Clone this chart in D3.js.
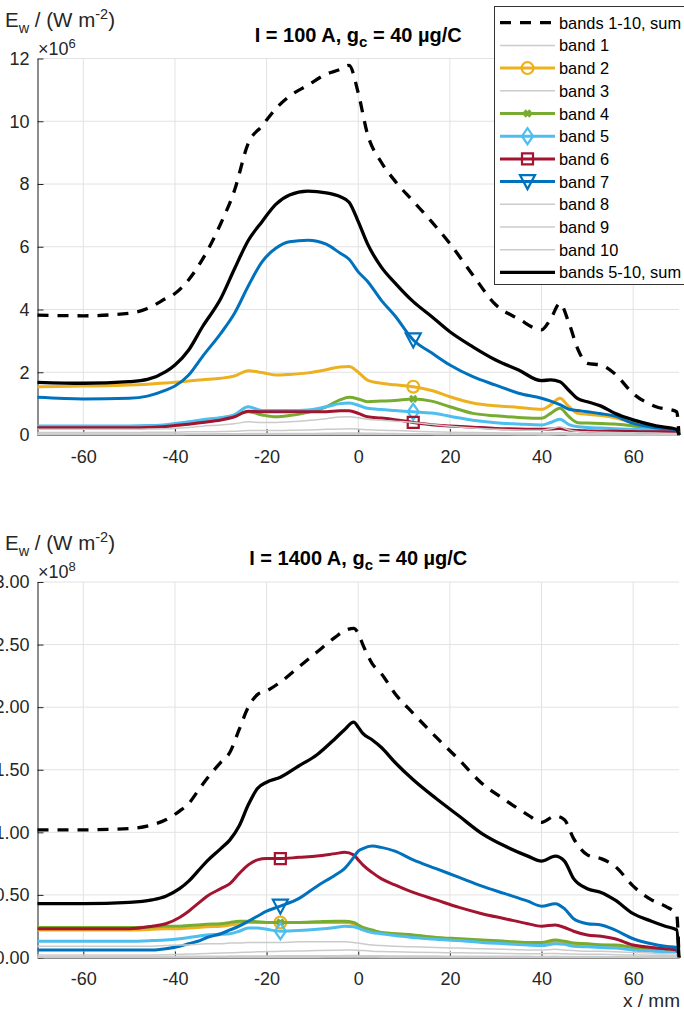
<!DOCTYPE html>
<html>
<head>
<meta charset="utf-8">
<script src="https://cdn.jsdelivr.net/npm/d3@7"></script>
<style>
  body { margin: 0; background: #fff; }
  svg { display: block; font-family: "Liberation Sans", Arial, Helvetica, sans-serif; }
</style>
</head>
<body>
<svg id="chart" width="684" height="1010"></svg>
<script>
// ---------- data ----------
const X_TICKS = [-60, -40, -20, 0, 20, 40, 60];
const Y_TICKS_TOP = [0, 2, 4, 6, 8, 10, 12];          // ×10^6 W m^-2
const Y_TICKS_BOT = [0, 0.5, 1, 1.5, 2, 2.5, 3];      // ×10^8 W m^-2

const LEGEND_LABELS = ["bands 1-10, sum", "band 1", "band 2", "band 3", "band 4", "band 5",
                       "band 6", "band 7", "band 8", "band 9", "band 10", "bands 5-10, sum"];

// I = 100 A  (values ×10^6)
const X_TOP = [-70,-60,-50,-46,-42, -40,-37,-34,-30,-27, -24,-21,-18,-15,-11, -7,-4,-2,0,2,
               5,8,12,16,20, 25,30,35,40,42, 44,46,48,50,53, 56,60,65,69.5,70];
const TOP_SUM_ALL = [3.82,3.80,3.88,4.03,4.35, 4.51,4.95,5.60,6.74,7.80, 9.30,9.85,10.40,10.80,11.15,
                     11.50,11.65,11.78,10.90,9.60, 8.70,8.10,7.45,6.80,6.10, 5.10,4.15,3.70,3.35,3.70,
                     4.19,3.56,2.71,2.28,2.23, 1.95,1.32,0.90,0.74,0];
const TOP_B1 = [0.03,0.03,0.03,0.03,0.03, 0.03,0.035,0.035,0.04,0.04, 0.045,0.045,0.045,0.05,0.05,
                0.055,0.06,0.06,0.06,0.055, 0.05,0.045,0.04,0.035,0.03, 0.03,0.025,0.025,0.02,0.025,
                0.03,0.02,0.02,0.02,0.02, 0.015,0.015,0.01,0.01,0];
const TOP_B2 = [1.54,1.56,1.59,1.62,1.66, 1.68,1.72,1.76,1.81,1.88, 2.05,1.99,1.91,1.93,1.98,
                2.08,2.17,2.18,2.00,1.75, 1.65,1.60,1.54,1.42,1.22, 1.02,0.93,0.88,0.82,0.96,
                1.17,0.90,0.69,0.66,0.62, 0.55,0.39,0.27,0.16,0];
const TOP_B3 = [0.08,0.08,0.08,0.085,0.09, 0.09,0.10,0.10,0.11,0.12, 0.14,0.14,0.14,0.15,0.16,
                0.18,0.19,0.20,0.19,0.17, 0.15,0.14,0.12,0.10,0.09, 0.08,0.07,0.065,0.06,0.07,
                0.08,0.06,0.05,0.05,0.045, 0.04,0.04,0.035,0.03,0];
const TOP_B4 = [0.27,0.27,0.27,0.28,0.30, 0.32,0.37,0.44,0.54,0.62, 0.74,0.64,0.58,0.62,0.72,
                0.90,1.12,1.20,1.15,1.06, 1.08,1.10,1.15,1.08,0.90, 0.69,0.61,0.56,0.53,0.69,
                0.85,0.58,0.39,0.38,0.37, 0.35,0.29,0.21,0.16,0];
const TOP_B5 = [0.29,0.29,0.29,0.30,0.33, 0.37,0.42,0.49,0.55,0.65, 0.90,0.78,0.78,0.78,0.80,
                0.90,1.00,1.02,0.95,0.85, 0.81,0.78,0.74,0.70,0.60, 0.47,0.39,0.35,0.32,0.40,
                0.50,0.33,0.26,0.24,0.22, 0.20,0.18,0.16,0.14,0];
const TOP_B6 = [0.23,0.23,0.23,0.24,0.27, 0.30,0.34,0.40,0.48,0.58, 0.76,0.74,0.74,0.74,0.74,
                0.74,0.77,0.77,0.69,0.58, 0.54,0.49,0.40,0.33,0.29, 0.25,0.21,0.19,0.18,0.19,
                0.21,0.16,0.14,0.13,0.12, 0.12,0.11,0.10,0.10,0];
const TOP_B7 = [1.20,1.15,1.17,1.24,1.43, 1.56,1.91,2.50,3.24,3.88, 4.75,5.52,5.95,6.16,6.21,
                6.08,5.80,5.60,5.20,4.90, 4.30,3.80,3.03,2.62,2.23, 1.86,1.59,1.33,1.17,1.08,
                0.97,0.82,0.78,0.74,0.68, 0.60,0.37,0.23,0.16,0];
const TOP_B8 = [0.18,0.18,0.18,0.19,0.20, 0.21,0.24,0.28,0.32,0.36, 0.42,0.40,0.40,0.42,0.46,
                0.52,0.57,0.58,0.55,0.50, 0.47,0.44,0.40,0.34,0.28, 0.22,0.18,0.16,0.15,0.20,
                0.26,0.16,0.11,0.10,0.09, 0.08,0.07,0.06,0.05,0];
const TOP_B9 = [0.015,0.015,0.015,0.015,0.015, 0.015,0.02,0.02,0.02,0.02, 0.025,0.025,0.025,0.025,0.03,
                0.03,0.03,0.03,0.03,0.03, 0.025,0.025,0.02,0.02,0.015, 0.015,0.015,0.01,0.01,0.012,
                0.015,0.01,0.01,0.01,0.01, 0.008,0.008,0.006,0.005,0];
const TOP_B10 = [0.005,0.005,0.005,0.005,0.005, 0.005,0.006,0.006,0.007,0.007, 0.008,0.008,0.008,0.008,0.009,
                 0.009,0.01,0.01,0.01,0.009, 0.008,0.008,0.007,0.007,0.006, 0.006,0.005,0.005,0.004,0.004,
                 0.005,0.004,0.004,0.004,0.003, 0.003,0.003,0.002,0.002,0];
const TOP_SUM_5_10 = [1.68,1.65,1.70,1.77,2.02, 2.23,2.71,3.45,4.35,5.30, 6.20,6.80,7.35,7.65,7.77,
                      7.72,7.60,7.42,6.80,6.10, 5.36,4.85,4.25,3.78,3.29, 2.81,2.39,2.07,1.73,1.76,
                      1.70,1.42,1.15,1.06,0.92, 0.69,0.48,0.29,0.18,0];

// I = 1400 A  (values ×10^8)
const X_BOT = [-70,-60,-50,-45,-42, -39,-37,-35,-33,-30, -28,-26,-24,-22,-20, -17,-13,-9,-5,-3,
               -1,0,1,3,5, 8,12,17,22,27, 32,37,40,43,45, 47,50,53,56,60, 64,67,69.5,70];
const BOT_SUM_ALL = [1.02,1.02,1.03,1.06,1.10, 1.17,1.23,1.33,1.43,1.56, 1.64,1.82,2.00,2.10,2.13,
                     2.20,2.32,2.44,2.56,2.61, 2.63,2.59,2.50,2.35,2.27, 2.11,1.95,1.76,1.58,1.39,
                     1.26,1.14,1.08,1.13,1.10, 0.95,0.82,0.79,0.73,0.57, 0.46,0.41,0.34,0];
const BOT_B1 = [0.008,0.008,0.008,0.008,0.008, 0.009,0.009,0.01,0.01,0.01, 0.011,0.011,0.012,0.012,0.012,
                0.013,0.013,0.014,0.014,0.015, 0.015,0.015,0.014,0.013,0.013, 0.012,0.012,0.011,0.01,0.01,
                0.009,0.009,0.008,0.009,0.008, 0.008,0.007,0.007,0.006,0.006, 0.005,0.005,0.004,0];
const BOT_B2 = [0.22,0.22,0.22,0.225,0.23, 0.23,0.235,0.24,0.245,0.25, 0.26,0.27,0.28,0.28,0.28,
                0.28,0.28,0.28,0.28,0.28, 0.27,0.25,0.235,0.215,0.20, 0.19,0.175,0.16,0.145,0.135,
                0.125,0.115,0.115,0.13,0.125, 0.11,0.105,0.10,0.095,0.08, 0.07,0.06,0.055,0];
const BOT_B3 = [0.02,0.02,0.02,0.02,0.022, 0.025,0.027,0.03,0.032,0.035, 0.037,0.04,0.042,0.045,0.047,
                0.05,0.052,0.055,0.058,0.06, 0.06,0.058,0.055,0.05,0.047, 0.045,0.042,0.04,0.037,0.035,
                0.032,0.03,0.03,0.032,0.03, 0.027,0.025,0.025,0.022,0.02, 0.018,0.017,0.015,0];
const BOT_B4 = [0.24,0.24,0.24,0.245,0.25, 0.25,0.255,0.26,0.265,0.27, 0.28,0.29,0.29,0.285,0.28,
                0.28,0.28,0.285,0.29,0.29, 0.28,0.26,0.24,0.22,0.20, 0.19,0.18,0.16,0.15,0.14,
                0.13,0.12,0.12,0.14,0.13, 0.115,0.11,0.10,0.10,0.08, 0.07,0.065,0.06,0];
const BOT_B5 = [0.13,0.13,0.13,0.135,0.14, 0.15,0.16,0.17,0.18,0.185, 0.19,0.21,0.235,0.235,0.225,
                0.21,0.215,0.225,0.24,0.25, 0.245,0.235,0.22,0.20,0.19, 0.175,0.16,0.145,0.135,0.12,
                0.11,0.10,0.095,0.11,0.105, 0.09,0.085,0.08,0.075,0.06, 0.05,0.045,0.04,0];
const BOT_B6 = [0.23,0.23,0.23,0.25,0.27, 0.32,0.37,0.43,0.49,0.55, 0.59,0.67,0.74,0.78,0.79,
                0.79,0.80,0.81,0.83,0.84, 0.82,0.78,0.74,0.68,0.63, 0.58,0.52,0.46,0.40,0.35,
                0.31,0.27,0.25,0.26,0.24, 0.21,0.18,0.17,0.15,0.10, 0.08,0.07,0.06,0];
const BOT_B7 = [0.06,0.06,0.06,0.06,0.07, 0.09,0.11,0.13,0.16,0.19, 0.22,0.25,0.29,0.33,0.37,
                0.41,0.47,0.57,0.66,0.71, 0.80,0.85,0.87,0.89,0.88, 0.85,0.78,0.71,0.64,0.57,
                0.51,0.45,0.41,0.43,0.39, 0.31,0.27,0.26,0.22,0.15, 0.11,0.09,0.08,0];
const BOT_B8 = [0.09,0.09,0.09,0.09,0.095, 0.10,0.10,0.105,0.11,0.11, 0.115,0.115,0.12,0.12,0.12,
                0.12,0.125,0.125,0.125,0.125, 0.12,0.115,0.11,0.10,0.095, 0.09,0.085,0.08,0.075,0.07,
                0.065,0.06,0.06,0.065,0.06, 0.055,0.05,0.05,0.045,0.04, 0.035,0.03,0.03,0];
const BOT_B9 = [0.004,0.004,0.004,0.004,0.004, 0.005,0.005,0.005,0.005,0.006, 0.006,0.006,0.006,0.007,0.007,
                0.007,0.007,0.008,0.008,0.008, 0.008,0.008,0.008,0.007,0.007, 0.007,0.006,0.006,0.006,0.005,
                0.005,0.005,0.005,0.005,0.005, 0.004,0.004,0.004,0.004,0.003, 0.003,0.003,0.003,0];
const BOT_B10 = [0.002,0.002,0.002,0.002,0.002, 0.002,0.002,0.002,0.002,0.003, 0.003,0.003,0.003,0.003,0.003,
                 0.003,0.003,0.003,0.004,0.004, 0.004,0.004,0.004,0.004,0.003, 0.003,0.003,0.003,0.003,0.003,
                 0.002,0.002,0.002,0.002,0.002, 0.002,0.002,0.002,0.002,0.002, 0.001,0.001,0.001,0];
const BOT_SUM_5_10 = [0.43,0.43,0.44,0.46,0.49, 0.55,0.61,0.69,0.77,0.87, 0.94,1.05,1.22,1.35,1.40,
                      1.44,1.53,1.62,1.75,1.82, 1.88,1.84,1.79,1.74,1.68, 1.56,1.42,1.27,1.13,0.99,
                      0.89,0.81,0.77,0.81,0.77, 0.63,0.55,0.52,0.46,0.35, 0.29,0.25,0.22,0];

// ---------- styles (one per legend entry, in drawing order) ----------
const GREY = "#cbcbcb";
const STYLES = [
  { color: "#000000", width: 3.3, dash: "11,9", marker: null },
  { color: GREY,      width: 1.5, dash: null,   marker: null },
  { color: "#EDB120", width: 3,   dash: null,   marker: "circle" },
  { color: GREY,      width: 1.5, dash: null,   marker: null },
  { color: "#77AC30", width: 3,   dash: null,   marker: "x" },
  { color: "#4DBEEE", width: 3,   dash: null,   marker: "diamond" },
  { color: "#A2142F", width: 3,   dash: null,   marker: "square" },
  { color: "#0072BD", width: 3,   dash: null,   marker: "triangle" },
  { color: GREY,      width: 1.5, dash: null,   marker: null },
  { color: GREY,      width: 1.5, dash: null,   marker: null },
  { color: GREY,      width: 1.5, dash: null,   marker: null },
  { color: "#000000", width: 3.3, dash: null,   marker: null }
];

const TEXT = "#262626";
const svg = d3.select("#chart");
const x = d3.scaleLinear().domain([-70, 70]).range([37.5, 679]);

function markerPath(kind) {
  switch (kind) {
    case "x":        return "M-3,-3L3,3M-3,3L3,-3";
    case "diamond":  return "M0,-8L5.5,0L0,8L-5.5,0Z";
    case "square":   return "M-5.5,-5.5H5.5V5.5H-5.5Z";
    case "triangle": return "M-7.5,-6.5H7.5L0,7.5Z";
    default:         return d3.symbol(d3.symbolCircle, 110)();
  }
}

function drawMarker(g, kind, px, py, color) {
  g.append("path").attr("d", markerPath(kind))
    .attr("transform", `translate(${px},${py})`)
    .attr("fill", "none").attr("stroke", color)
    .attr("stroke-width", kind === "x" ? 3.2 : 2.2)
    .attr("stroke-linejoin", "miter");
}

function panel(cfg) {
  const y = d3.scaleLinear().domain([0, cfg.yMax]).range([cfg.bottom, cfg.top]);
  const g = svg.append("g");

  // grid
  const grid = g.append("g").attr("stroke", "#e2e2e2").attr("stroke-width", 1);
  grid.selectAll("line.v").data(X_TICKS).join("line").attr("class", "v")
    .attr("x1", d => x(d)).attr("x2", d => x(d))
    .attr("y1", cfg.top).attr("y2", cfg.bottom);
  grid.selectAll("line.h").data(cfg.yTicks).join("line").attr("class", "h")
    .attr("x1", x(-70)).attr("x2", x(70))
    .attr("y1", d => y(d)).attr("y2", d => y(d));

  // axes
  const ax = g.append("g").attr("transform", `translate(0,${cfg.bottom})`)
    .call(d3.axisBottom(x).tickValues(X_TICKS).tickFormat(d3.format("d"))
      .tickSize(-6).tickSizeOuter(0).tickPadding(15));
  const ay = g.append("g").attr("transform", `translate(${x(-70)},0)`)
    .call(d3.axisLeft(y).tickValues(cfg.yTicks).tickFormat(cfg.fmt)
      .tickSize(-6).tickSizeOuter(0).tickPadding(8));
  [ax, ay].forEach(a => {
    a.attr("color", TEXT).attr("font-family", null).attr("font-size", 18);
    a.select(".domain").attr("stroke", "#1a1a1a");
    a.selectAll("text").attr("fill", TEXT);
  });
  ax.selectAll(".tick text").text(d => d < 0 ? "-" + Math.abs(d) : d);

  // series
  const line = d3.line().x((d, i) => x(cfg.xs[i])).y(d => y(d)).curve(d3.curveMonotoneX);
  cfg.series.forEach((vals, k) => {
    const st = STYLES[k];
    g.append("path").datum(vals)
      .attr("d", line)
      .attr("fill", "none")
      .attr("stroke", st.color)
      .attr("stroke-width", st.width)
      .attr("stroke-dasharray", st.dash)
      .attr("stroke-linejoin", "round");
    if (st.marker) {
      const i = cfg.xs.indexOf(cfg.markerX);
      drawMarker(g, st.marker, x(cfg.xs[i]), y(vals[i]), st.color);
    }
  });

  // y label
  const yl = svg.append("text").attr("x", 5).attr("y", cfg.top - 32)
    .attr("font-size", 20.5).attr("fill", TEXT);
  yl.append("tspan").text("E");
  yl.append("tspan").attr("font-size", 14.5).attr("dy", 6).text("w");
  yl.append("tspan").attr("dy", -6).text(" / (W m");
  yl.append("tspan").attr("font-size", 14.5).attr("dy", -8).text("-2");
  yl.append("tspan").attr("dy", 8).text(")");

  // exponent
  const ex = svg.append("text").attr("x", 38).attr("y", cfg.top - 4)
    .attr("font-size", 18).attr("fill", TEXT);
  ex.append("tspan").text("\u00d710");
  ex.append("tspan").attr("font-size", 13).attr("dy", -7).text(cfg.exp);

  // title
  const t = svg.append("text").attr("x", (x(-70) + x(70)) / 2).attr("y", cfg.top - 17)
    .attr("text-anchor", "middle").attr("font-size", 20).attr("font-weight", "bold").attr("fill", "#000");
  t.append("tspan").text(`I = ${cfg.current} A, g`);
  t.append("tspan").attr("font-size", 15).attr("dy", 5).text("c");
  t.append("tspan").attr("dy", -5).text(" = 40 \u00b5g/C");

  return { g, y };
}

panel({
  xs: X_TOP, yMax: 12, yTicks: Y_TICKS_TOP, fmt: d3.format("d"),
  top: 58.5, bottom: 435, exp: "6", current: 100, markerX: 12,
  series: [TOP_SUM_ALL, TOP_B1, TOP_B2, TOP_B3, TOP_B4, TOP_B5, TOP_B6, TOP_B7,
           TOP_B8, TOP_B9, TOP_B10, TOP_SUM_5_10]
});

panel({
  xs: X_BOT, yMax: 3, yTicks: Y_TICKS_BOT, fmt: d3.format(".2f"),
  top: 582, bottom: 957.5, exp: "8", current: 1400, markerX: -17,
  series: [BOT_SUM_ALL, BOT_B1, BOT_B2, BOT_B3, BOT_B4, BOT_B5, BOT_B6, BOT_B7,
           BOT_B8, BOT_B9, BOT_B10, BOT_SUM_5_10]
});

// x label
svg.append("text").attr("x", 680).attr("y", 1007).attr("text-anchor", "end")
  .attr("font-size", 19).attr("fill", TEXT).text("x / mm");

// legend
const lg = svg.append("g");
lg.append("rect").attr("x", 494.5).attr("y", 6.5).attr("width", 200).attr("height", 278)
  .attr("fill", "#fff").attr("stroke", "#333").attr("stroke-width", 1);
LEGEND_LABELS.forEach((lab, k) => {
  const st = STYLES[k];
  const cy = 22.7 + k * 22.7;
  lg.append("line").attr("x1", 500).attr("x2", 555).attr("y1", cy).attr("y2", cy)
    .attr("stroke", st.color).attr("stroke-width", st.width)
    .attr("stroke-dasharray", st.dash);
  if (st.marker) drawMarker(lg, st.marker, 527.5, cy, st.color);
  lg.append("text").attr("x", 559).attr("y", cy + 6).attr("font-size", 16.4)
    .attr("fill", "#000").text(lab);
});
</script>
</body>
</html>
